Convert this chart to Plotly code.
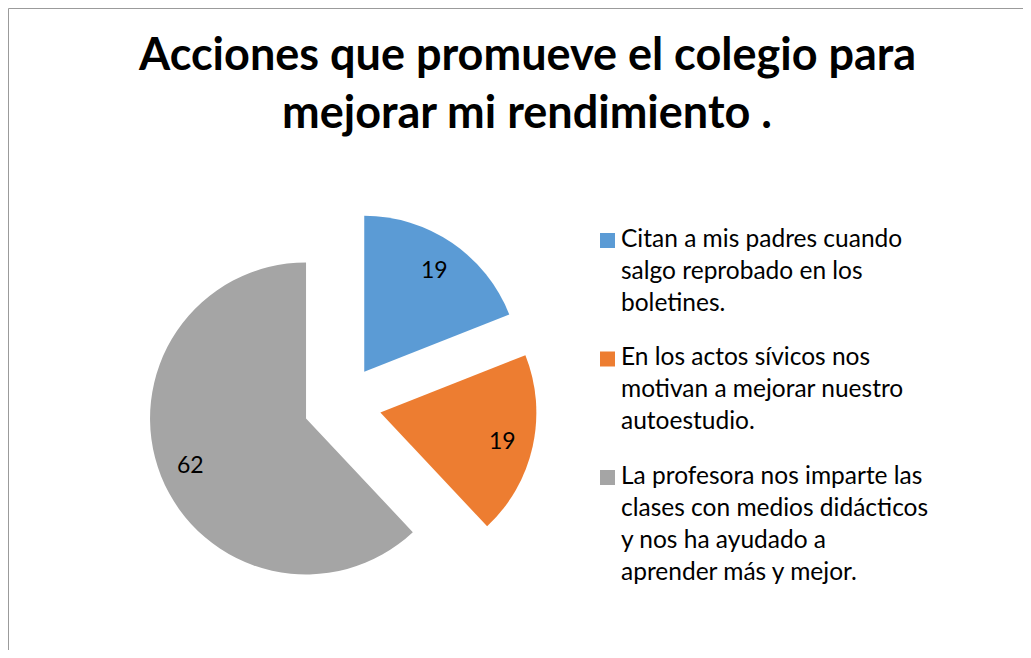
import math
import plotly.graph_objects as go

# ---------------- data ----------------
title_lines = ["Acciones que promueve el colegio para", "mejorar mi rendimiento ."]
labels = [
    "Citan a mis padres cuando salgo reprobado en los boletines.",
    "En los actos sívicos nos motivan a mejorar nuestro autoestudio.",
    "La profesora nos imparte las clases con medios didácticos y nos ha ayudado a aprender más y mejor.",
]
legend_lines = [
    ["Citan a mis padres cuando", "salgo reprobado en los", "boletines."],
    ["En los actos sívicos nos", "motivan a mejorar nuestro", "autoestudio."],
    ["La profesora nos imparte las", "clases con medios didácticos", "y nos ha ayudado a", "aprender más y mejor."],
]
values = [19, 19, 62]
colors = ["#5B9BD5", "#ED7D31", "#A5A5A5"]

# ---------------- layout constants ----------------
# page body keeps an 8px margin, so the figure is drawn from (8, 8)
OFF = 8
W, H = 1031 - 2 * OFF, 658 - 2 * OFF
FONT = "Lato"


def px(sx):
    return (sx - OFF) / W


def py(sy):
    return 1 - (sy - OFF) / H


R = 156.0
PULL = 0.25
CX, CY = 342.3, 404.1          # window coordinates of the un-exploded pie centre
HALF = R * (1 + PULL)

fig = go.Figure()
fig.add_trace(go.Pie(
    values=values,
    labels=labels,
    marker=dict(colors=colors, line=dict(width=0)),
    pull=[PULL] * len(values),
    sort=False,
    direction="clockwise",
    rotation=0,
    textinfo="none",
    hoverinfo="label+value",
    showlegend=False,
    domain=dict(x=[px(CX - HALF), px(CX + HALF)], y=[py(CY + HALF), py(CY - HALF)]),
))

annotations = []
# data labels along each slice's mid-angle
total = sum(values)
cum = 0
for v in values:
    mid = (cum + v / 2) / total * 2 * math.pi
    cum += v
    dist = PULL * R + 0.8 * R
    lx = CX + dist * math.sin(mid)
    ly = CY - dist * math.cos(mid)
    annotations.append(dict(
        x=px(lx), y=py(ly), xref="paper", yref="paper",
        text=str(v), showarrow=False, xanchor="center", yanchor="middle",
        font=dict(family=FONT, size=23, color="#000000"),
    ))

# title (two centred bold lines)
TFS = 45
title_base = [72.3, 130.0]
for t, b in zip(title_lines, title_base):
    annotations.append(dict(
        x=px(527), y=py(b - 0.43 * TFS), xref="paper", yref="paper",
        text="<b>" + t + "</b>", showarrow=False, xanchor="center", yanchor="middle",
        font=dict(family=FONT, size=TFS, color="#000000"),
    ))

# legend: square aligned with first text line
LFS = 24.5
shapes = []
item_base = [248, 366.5, 485]
LINE = 32
for i, lines in enumerate(legend_lines):
    base = item_base[i]
    shapes.append(dict(
        type="rect", xref="paper", yref="paper",
        x0=px(600), x1=px(615), y0=py(base), y1=py(base - 15),
        fillcolor=colors[i], line=dict(width=0),
    ))
    for j, ln in enumerate(lines):
        b = base + j * LINE
        annotations.append(dict(
            x=px(619), y=py(b - 0.43 * LFS), xref="paper", yref="paper",
            text=ln, showarrow=False, xanchor="left", yanchor="middle",
            font=dict(family=FONT, size=LFS, color="#000000"),
        ))

# outer chart border (right/bottom edges fall outside the view)
shapes.append(dict(
    type="rect", xref="paper", yref="paper",
    x0=px(8.5), x1=1.02, y0=-0.02, y1=py(8.5),
    line=dict(color="#9b9b9b", width=1), fillcolor="rgba(0,0,0,0)",
))

fig.update_layout(
    width=W, height=H,
    margin=dict(l=0, r=0, t=0, b=0),
    paper_bgcolor="white", plot_bgcolor="white",
    annotations=annotations, shapes=shapes,
    showlegend=False,
)

fig.write_html("out.html")
